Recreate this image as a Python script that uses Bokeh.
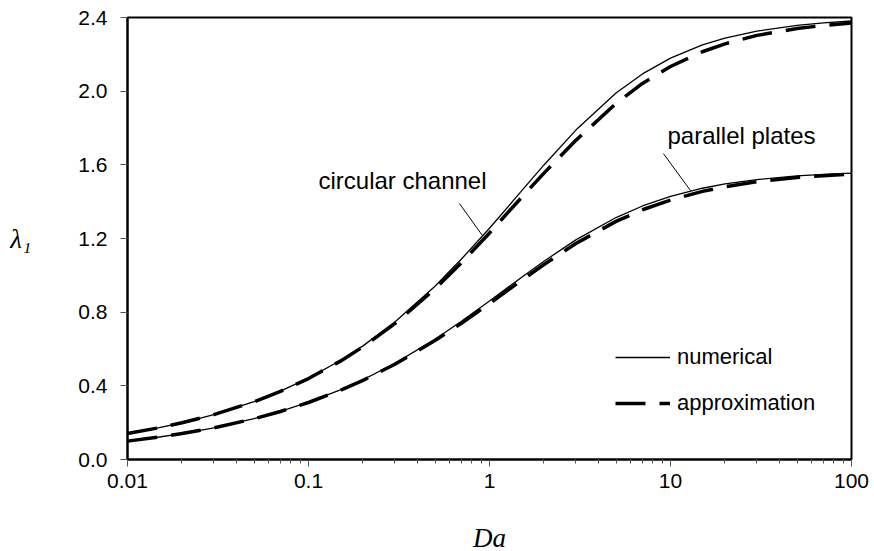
from bokeh.plotting import figure
from bokeh.models import (FixedTicker, NumeralTickFormatter, Label, Legend, LegendItem, Range1d)
from bokeh.embed import file_html
from bokeh.resources import INLINE

# ---- data ----
da = [0.01, 0.015, 0.02, 0.03, 0.05, 0.07, 0.1, 0.15, 0.2, 0.3, 0.5, 0.7,
      1, 1.5, 2, 3, 5, 7, 10, 15, 20, 30, 50, 70, 100]

circ_numerical = [0.1412, 0.1729, 0.1995, 0.2440, 0.3143, 0.3713, 0.4417, 0.5376,
                  0.6170, 0.7465, 0.9408, 1.0885, 1.2558, 1.4569, 1.5994, 1.7887,
                  1.9898, 2.0937, 2.1795, 2.2509, 2.2880, 2.3261, 2.3572, 2.3704, 2.3809]
circ_approx = [0.1410, 0.1727, 0.1992, 0.2436, 0.3135, 0.3700, 0.4395, 0.5340,
               0.6120, 0.7380, 0.9260, 1.0690, 1.2300, 1.4220, 1.5550, 1.7330,
               1.9330, 2.0420, 2.1340, 2.2140, 2.2570, 2.3030, 2.3400, 2.3570, 2.3700]
plate_numerical = [0.0998, 0.1222, 0.1410, 0.1723, 0.2218, 0.2615, 0.3111, 0.3779,
                   0.4328, 0.5218, 0.6533, 0.7506, 0.8603, 0.9882, 1.0769, 1.1925,
                   1.3138, 1.3766, 1.4289, 1.4729, 1.4961, 1.5202, 1.5400, 1.5485, 1.5552]
plate_approx = [0.0997, 0.1220, 0.1408, 0.1720, 0.2212, 0.2606, 0.3095, 0.3755,
                0.4295, 0.5170, 0.6460, 0.7400, 0.8470, 0.9720, 1.0590, 1.1730,
                1.2930, 1.3560, 1.4090, 1.4560, 1.4810, 1.5080, 1.5310, 1.5410, 1.5500]

x_ticks = [0.01, 0.1, 1, 10, 100]
x_tick_labels = ["0.01", "0.1", "1", "10", "100"]
y_ticks = [0.0, 0.4, 0.8, 1.2, 1.6, 2.0, 2.4]

FONT = "Liberation Sans"

p = figure(width=874, height=551, x_axis_type="log",
           x_range=Range1d(0.01, 100), y_range=Range1d(0, 2.4),
           output_backend="svg", toolbar_location=None,
           min_border_left=127, min_border_right=23,
           min_border_top=17, min_border_bottom=92)
p.frame_width = 724
p.frame_height = 442
p.background_fill_color = "white"
p.border_fill_color = "white"
p.xgrid.visible = False
p.ygrid.visible = False
p.outline_line_color = "black"
p.outline_line_width = 2

# axes
minor = []
for d in [0.01, 0.1, 1, 10]:
    for k in range(2, 10):
        minor.append(d * k)
p.xaxis.ticker = FixedTicker(ticks=x_ticks, minor_ticks=minor)
p.xaxis.major_label_overrides = {t: l for t, l in zip(x_ticks, x_tick_labels)}
p.yaxis.ticker = FixedTicker(ticks=y_ticks)
p.yaxis.formatter = NumeralTickFormatter(format="0.0")

for ax in (p.xaxis[0], p.yaxis[0]):
    ax.axis_line_color = "black"
    ax.axis_line_width = 2
    ax.major_tick_line_color = "#555555"
    ax.major_tick_in = 0
    ax.major_tick_out = 7
    ax.minor_tick_line_color = "#555555"
    ax.minor_tick_in = 0
    ax.minor_tick_out = 4
    ax.major_label_text_font = FONT
    ax.major_label_text_font_size = "21px"
    ax.major_label_text_color = "black"
    ax.axis_label_text_color = "black"
p.yaxis.minor_tick_line_color = None
p.xaxis.major_label_standoff = 7
p.yaxis.major_label_standoff = 13

p.xaxis.axis_label = "Da"
p.xaxis.axis_label_text_font = "Liberation Serif"
p.xaxis.axis_label_text_font_style = "italic"
p.xaxis.axis_label_text_font_size = "27px"
p.xaxis.axis_label_standoff = 32

p.yaxis.axis_label = "λ₁"
p.yaxis.axis_label_orientation = "horizontal"
p.yaxis.axis_label_text_font = "Liberation Serif"
p.yaxis.axis_label_text_font_style = "italic"
p.yaxis.axis_label_text_font_size = "27px"
p.yaxis.axis_label_standoff = 44

# curves
r_cn = p.line(da, circ_numerical, line_color="black", line_width=1.3)
r_ca = p.line(da, circ_approx, line_color="black", line_width=3.5, line_dash="30 14")
r_pn = p.line(da, plate_numerical, line_color="black", line_width=1.3)
r_pa = p.line(da, plate_approx, line_color="black", line_width=3.5, line_dash="30 14")

# legend
legend = Legend(items=[LegendItem(label="numerical", renderers=[r_cn]),
                       LegendItem(label="approximation", renderers=[r_ca])],
                location=(488, 43), orientation="vertical",
                border_line_color=None, background_fill_alpha=0,
                padding=0, margin=0, spacing=20,
                glyph_width=55, glyph_height=20, label_height=20,
                label_standoff=7,
                label_text_font=FONT, label_text_font_size="22px",
                label_text_color="black")
p.add_layout(legend)

# annotations
p.add_layout(Label(x=0.1135, y=1.515, text="circular channel", text_font=FONT,
                   text_font_size="24px", text_baseline="middle", text_color="black"))
p.line([0.682, 0.914], [1.390, 1.216], line_color="black", line_width=1)
p.add_layout(Label(x=9.62, y=1.759, text="parallel plates", text_font=FONT,
                   text_font_size="24px", text_baseline="middle", text_color="black"))
p.line([9.14, 12.9], [1.661, 1.460], line_color="black", line_width=1)

open("out.html", "w").write(file_html(p, INLINE))
